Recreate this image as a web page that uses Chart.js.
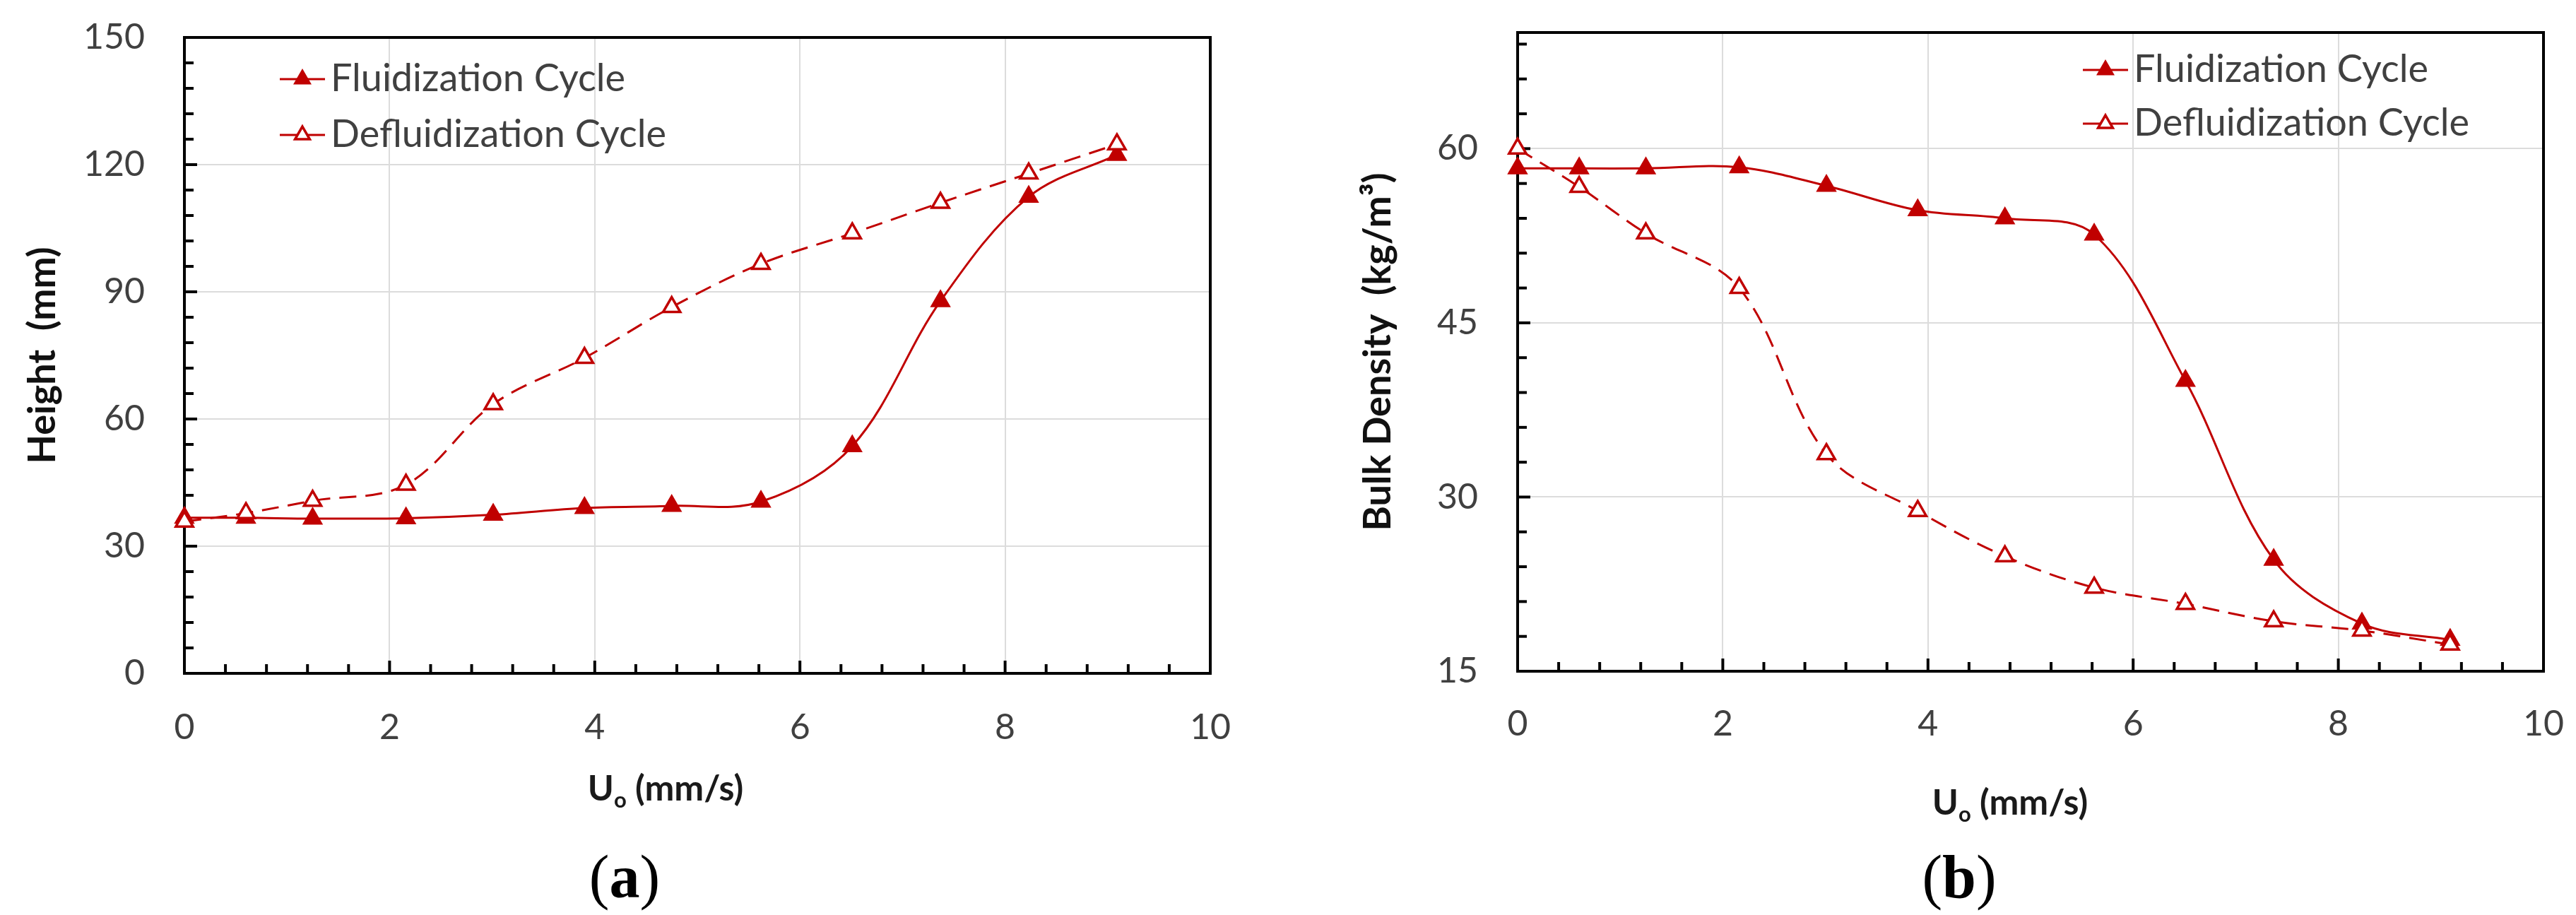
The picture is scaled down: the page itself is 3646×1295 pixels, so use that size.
<!DOCTYPE html>
<html>
<head>
<meta charset="utf-8">
<script src="https://cdn.jsdelivr.net/npm/chart.js@4.4.1/dist/chart.umd.min.js"></script>
<style>
  html, body { margin: 0; padding: 0; background: #fff; }
  #page { position: relative; width: 3646px; height: 1295px; overflow: hidden; }
  .panel { position: absolute; top: 0; width: 1823px; height: 1295px; }
  .panel canvas { display: block; }
  .xtitle {
    position: absolute; transform: translate(-50%, -50%);
    font-family: Lato, sans-serif; font-weight: 700; font-size: 50px;
    color: #1a1a1a; white-space: nowrap; line-height: 1;
  }
  .xtitle sub { font-size: 0.62em; vertical-align: -0.3em; }
  .caption {
    position: absolute; transform: translate(-50%, -50%);
    font-family: "Liberation Serif", serif; font-size: 86px; color: #000; line-height: 1;
  }
</style>
</head>
<body>
<div id="page">
  <div class="panel" style="left:0"><canvas id="chartA" width="1823" height="1295"></canvas></div>
  <div class="panel" style="left:1823px"><canvas id="chartB" width="1823" height="1295"></canvas></div>
  <div class="xtitle" style="left:942px; top:1118px">U<sub>o</sub> (mm/s)</div>
  <div class="xtitle" style="left:2845px; top:1138px">U<sub>o</sub> (mm/s)</div>
  <div class="caption" style="left:884px; top:1241px">(<b>a</b>)</div>
  <div class="caption" style="left:2773px; top:1241px">(<b>b</b>)</div>
</div>
<script>
// superficial velocity (mm/s), shared by both cycles
const uo = [0, 0.6, 1.25, 2.16, 3.01, 3.9, 4.75, 5.62, 6.51, 7.37, 8.23, 9.09];

// (a) bed height, mm
const heightFluid   = [36.7, 36.7, 36.5, 36.6, 37.4, 39.0, 39.5, 40.5, 53.6, 87.8, 112.4, 122.3];
const heightDefluid = [35.8, 37.8, 40.7, 44.5, 63.5, 74.4, 86.4, 96.6, 103.8, 111.0, 117.9, 124.8];

// (b) bulk density, kg/m3
const densityFluid   = [58.3, 58.3, 58.3, 58.4, 56.8, 54.7, 54.0, 52.6, 40.0, 24.6, 19.1, 17.7];
const densityDefluid = [60.0, 56.7, 52.7, 48.0, 33.7, 28.8, 24.9, 22.2, 20.8, 19.3, 18.5, 17.3];

// axes
const xTicks = [0, 2, 4, 6, 8, 10];
const heightTicks = [0, 30, 60, 90, 120, 150];
const densityTicks = [15, 30, 45, 60];
const densityRange = [15, 70];

const RED = '#c00000';
const TICK_COLOR = '#404040';

Chart.defaults.font.family = 'Lato, sans-serif';

function toPoints(ys) {
    return uo.map((x, i) => ({ x: x, y: ys[i] }));
}

function fluidSet(ys) {
    return {
        label: 'Fluidization Cycle',
        data: toPoints(ys),
        borderColor: RED, borderWidth: 3,
        pointStyle: 'triangle', pointRadius: 15,
        pointBackgroundColor: RED, pointBorderColor: RED, pointBorderWidth: 2,
        tension: 0.35, clip: false, order: 1
    };
}

function defluidSet(ys) {
    return {
        label: 'Defluidization Cycle',
        data: toPoints(ys),
        borderColor: RED, borderWidth: 3, borderDash: [24, 13],
        pointStyle: 'triangle', pointRadius: 14,
        pointBackgroundColor: '#fff', pointBorderColor: RED, pointBorderWidth: 3.5,
        tension: 0.35, clip: false, order: 0
    };
}

// black box round the plot + inward major/minor ticks (Excel style)
const framePlugin = {
    id: 'frame',
    beforeDatasetsDraw(chart, args, opts) {
        const { ctx, chartArea: a, scales } = chart;
        ctx.save();
        ctx.strokeStyle = '#000';
        ctx.lineWidth = 4;
        ctx.lineCap = 'butt';
        // x ticks on the bottom edge
        const xs = scales.x;
        for (let k = 0; xs.min + k * opts.xMinor <= xs.max + 1e-9; k++) {
            const v = xs.min + k * opts.xMinor;
            const len = xTicks.some(t => Math.abs(t - v) < 1e-6) ? 18 : 13;
            const px = xs.getPixelForValue(v);
            ctx.beginPath(); ctx.moveTo(px, a.bottom); ctx.lineTo(px, a.bottom - len); ctx.stroke();
        }
        // y ticks on the left edge
        const ys = scales.y;
        for (let k = 0; ys.min + k * opts.yMinor < ys.max - 1e-9; k++) {
            const v = ys.min + k * opts.yMinor;
            const len = opts.yMajor.some(t => Math.abs(t - v) < 1e-6) ? 18 : 13;
            const py = ys.getPixelForValue(v);
            ctx.beginPath(); ctx.moveTo(a.left, py); ctx.lineTo(a.left + len, py); ctx.stroke();
        }
        ctx.strokeRect(a.left, a.top, a.right - a.left, a.bottom - a.top);
        ctx.restore();
    }
};

// legend drawn inside the plot, one row per series
const boxLegend = {
    id: 'boxLegend',
    afterDraw(chart, args, opts) {
        const ctx = chart.ctx;
        ctx.save();
        opts.order.forEach((di, row) => {
            const ds = chart.data.datasets[di];
            const y = opts.y + row * opts.rowGap;
            ctx.strokeStyle = ds.borderColor;
            ctx.lineWidth = ds.borderWidth;
            ctx.setLineDash([]);
            ctx.beginPath(); ctx.moveTo(opts.x, y); ctx.lineTo(opts.x + opts.lineLen, y); ctx.stroke();
            ctx.fillStyle = ds.pointBackgroundColor;
            ctx.strokeStyle = ds.pointBorderColor;
            ctx.lineWidth = ds.pointBorderWidth;
            Chart.helpers.drawPoint(ctx, {
                pointStyle: 'triangle', rotation: 0,
                radius: ds.pointRadius - 2, borderWidth: ds.pointBorderWidth
            }, opts.x + opts.lineLen / 2, y);
            ctx.fillStyle = TICK_COLOR;
            ctx.font = '54px Lato, sans-serif';
            ctx.textBaseline = 'middle';
            ctx.textAlign = 'left';
            ctx.fillText(ds.label, opts.x + opts.lineLen + opts.gap, y);
        });
        ctx.restore();
    }
};

// fixed scale box sizes, and no label overhang pushing the plot area in
function fixSize(prop, val) {
    return s => {
        s[prop] = val;
        s.paddingTop = 0; s.paddingBottom = 0;
        s.paddingLeft = 0; s.paddingRight = 0;
    };
}

function buildChart(id, cfg) {
    const grid = { color: '#dcdcdc', lineWidth: 2, drawTicks: false };
    return new Chart(document.getElementById(id), {
        type: 'line',
        data: { datasets: [fluidSet(cfg.fluid), defluidSet(cfg.defluid)] },
        options: {
            responsive: false,
            animation: false,
            layout: { padding: cfg.padding },
            scales: {
                x: {
                    type: 'linear', min: 0, max: 10,
                    afterBuildTicks: s => { s.ticks = xTicks.map(v => ({ value: v })); },
                    afterFit: fixSize('height', cfg.xHeight),
                    grid: grid,
                    border: { display: false },
                    ticks: { padding: cfg.xPad, color: TICK_COLOR, font: { size: 50 }, maxRotation: 0 }
                },
                y: {
                    type: 'linear', min: cfg.yMin, max: cfg.yMax,
                    afterBuildTicks: s => { s.ticks = cfg.yTicks.map(v => ({ value: v })); },
                    afterFit: fixSize('width', cfg.yWidth),
                    grid: grid,
                    border: { display: false },
                    ticks: { padding: 56, color: TICK_COLOR, font: { size: 50 } },
                    title: {
                        display: true, text: cfg.yTitle, color: '#111',
                        font: { size: 54, weight: 'bold' },
                        padding: { top: cfg.yTitlePad, bottom: 0 }
                    }
                }
            },
            plugins: {
                legend: { display: false },
                tooltip: { enabled: false },
                frame: { xMinor: 0.4, yMinor: cfg.yMinor, yMajor: cfg.yTicks },
                boxLegend: Object.assign({ order: [0, 1], lineLen: 64, gap: 8 }, cfg.legend)
            }
        },
        plugins: [framePlugin, boxLegend]
    });
}

buildChart('chartA', {
    fluid: heightFluid, defluid: heightDefluid,
    yMin: 0, yMax: 150, yTicks: heightTicks, yMinor: 6,
    yTitle: 'Height  (mm)', yTitlePad: 28,
    padding: { left: 0, top: 53, right: 110, bottom: 0 },
    yWidth: 261, xHeight: 342, xPad: 47,
    legend: { x: 396, y: 112, rowGap: 79 }
});

buildChart('chartB', {
    fluid: densityFluid, defluid: densityDefluid,
    yMin: densityRange[0], yMax: densityRange[1], yTicks: densityTicks, yMinor: 3,
    yTitle: 'Bulk Density  (kg/m\u00b3)', yTitlePad: 95,
    padding: { left: 0, top: 46, right: 46, bottom: 0 },
    yWidth: 325, xHeight: 345, xPad: 45,
    legend: { x: 1125, y: 99, rowGap: 76 }
});
</script>
</body>
</html>
